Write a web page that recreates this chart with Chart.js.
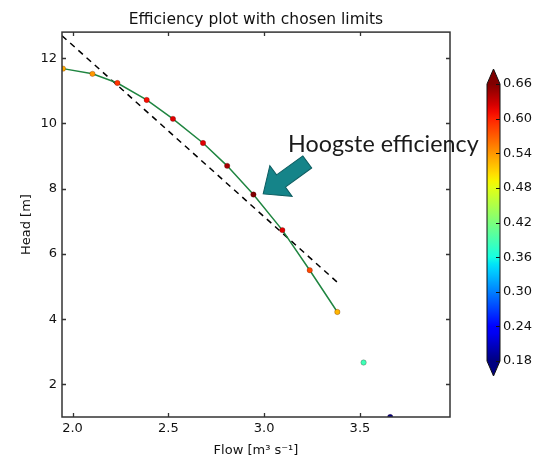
<!DOCTYPE html>
<html>
<head>
<meta charset="utf-8">
<script src="https://cdn.jsdelivr.net/npm/chart.js@4.4.1/dist/chart.umd.min.js"></script>
<style>
  html, body { margin: 0; padding: 0; background: #fff; }
  #wrap { position: relative; width: 537px; height: 458px; }
  #wrap canvas { position: absolute; top: 0; }
</style>
</head>
<body>
<div id="wrap">
  <canvas id="hoofd" width="537" height="458" style="left:0"></canvas>
  <canvas id="kleurbalk" width="67" height="458" style="left:470px"></canvas>
</div>
<script>
// 1. DATA
const flow = [1.95, 2.104, 2.234, 2.387, 2.524, 2.681, 2.807, 2.944, 3.095, 3.238, 3.382, 3.519, 3.658];
const head = [11.68, 11.52, 11.24, 10.72, 10.14, 9.40, 8.70, 7.82, 6.73, 5.50, 4.22, 2.67, 1.0];
const efficiency = [0.53, 0.54, 0.59, 0.61, 0.62, 0.62, 0.645, 0.66, 0.62, 0.58, 0.525, 0.385, 0.18];
const curvePoints = 11;            // groene lijn loopt door de eerste 11 punten
const fitFlow = [1.945, 3.38];     // gestippelde rechte (lineaire fit)
const fitHead = [12.69, 5.14];
const xTicks = [2.0, 2.5, 3.0, 3.5];
const yTicks = [2, 4, 6, 8, 10, 12];
const cbTicks = [0.18, 0.24, 0.30, 0.36, 0.42, 0.48, 0.54, 0.60, 0.66];
const label = 'Hoogste efficiency';
const labelPos = { x: 3.125, y: 9.12 };
const arrowTip = { x: 2.995, y: 7.84 };
const arrowTail = { x: 3.225, y: 8.82 };

const FONT = 'DejaVu Sans';
const effMin = cbTicks[0], effMax = cbTicks[cbTicks.length - 1];

// 2. JET KLEURENKAART
const jetR = [[0, 0], [0.35, 0], [0.66, 1], [0.89, 1], [1, 0.5]];
const jetG = [[0, 0], [0.125, 0], [0.375, 1], [0.64, 1], [0.91, 0], [1, 0]];
const jetB = [[0, 0.5], [0.11, 1], [0.34, 1], [0.65, 0], [1, 0]];
function interp(pts, t) {
    for (let i = 1; i < pts.length; i++) {
        if (t <= pts[i][0]) {
            const [x0, y0] = pts[i - 1], [x1, y1] = pts[i];
            return y0 + (y1 - y0) * (t - x0) / (x1 - x0);
        }
    }
    return pts[pts.length - 1][1];
}
function jet(t) {
    t = Math.min(1, Math.max(0, t));
    const c = v => Math.round(255 * v);
    return `rgb(${c(interp(jetR, t))},${c(interp(jetG, t))},${c(interp(jetB, t))})`;
}
const effColor = v => jet((v - effMin) / (effMax - effMin));

// 3. PLUGINS
const kaderPlugin = {
    id: 'kader',
    afterDatasetsDraw(chart) {
        const { ctx, chartArea: a, scales } = chart;
        ctx.save();
        ctx.strokeStyle = '#333';
        ctx.lineWidth = 1.3;
        ctx.beginPath();
        xTicks.forEach(v => {
            const px = Math.round(scales.x.getPixelForValue(v)) + 0.5;
            ctx.moveTo(px, a.bottom); ctx.lineTo(px, a.bottom - 4);
            ctx.moveTo(px, a.top); ctx.lineTo(px, a.top + 4);
        });
        yTicks.forEach(v => {
            const py = Math.round(scales.y.getPixelForValue(v)) + 0.5;
            ctx.moveTo(a.left, py); ctx.lineTo(a.left + 4, py);
            ctx.moveTo(a.right, py); ctx.lineTo(a.right - 4, py);
        });
        ctx.stroke();
        ctx.lineWidth = 1.5;
        ctx.strokeRect(a.left, a.top, a.right - a.left, a.bottom - a.top);
        ctx.restore();
    }
};

const annotatiePlugin = {
    id: 'annotatie',
    afterDraw(chart) {
        const { ctx, scales } = chart;
        const tx = scales.x.getPixelForValue(arrowTip.x), ty = scales.y.getPixelForValue(arrowTip.y);
        const sx = scales.x.getPixelForValue(arrowTail.x), sy = scales.y.getPixelForValue(arrowTail.y);
        const len = Math.hypot(tx - sx, ty - sy);
        const ang = Math.atan2(ty - sy, tx - sx);
        const headLen = 22, headW = 38, shaftW = 15;
        ctx.save();
        ctx.translate(sx, sy);
        ctx.rotate(ang);
        ctx.beginPath();
        ctx.moveTo(0, -shaftW / 2);
        ctx.lineTo(len - headLen, -shaftW / 2);
        ctx.lineTo(len - headLen, -headW / 2);
        ctx.lineTo(len, 0);
        ctx.lineTo(len - headLen, headW / 2);
        ctx.lineTo(len - headLen, shaftW / 2);
        ctx.lineTo(0, shaftW / 2);
        ctx.closePath();
        ctx.fillStyle = '#158489';
        ctx.fill();
        ctx.strokeStyle = '#0d5d61';
        ctx.lineWidth = 1;
        ctx.stroke();
        ctx.restore();

        ctx.save();
        ctx.font = '23.3px Lato';
        ctx.fillStyle = '#1a1a1a';
        ctx.textAlign = 'left';
        ctx.textBaseline = 'alphabetic';
        ctx.fillText(label, scales.x.getPixelForValue(labelPos.x), scales.y.getPixelForValue(labelPos.y));
        ctx.restore();
    }
};

const kleurbalkPlugin = {
    id: 'kleurbalkTekening',
    afterDraw(chart) {
        const { ctx, chartArea: a, scales } = chart;
        const mid = (a.left + a.right) / 2, ext = 15;
        ctx.save();
        const grad = ctx.createLinearGradient(0, a.bottom, 0, a.top);
        for (let i = 0; i <= 40; i++) grad.addColorStop(i / 40, jet(i / 40));
        ctx.fillStyle = grad;
        ctx.fillRect(a.left, a.top, a.right - a.left, a.bottom - a.top);
        ctx.fillStyle = jet(1);
        ctx.beginPath();
        ctx.moveTo(a.left, a.top); ctx.lineTo(mid, a.top - ext); ctx.lineTo(a.right, a.top); ctx.closePath();
        ctx.fill();
        ctx.fillStyle = jet(0);
        ctx.beginPath();
        ctx.moveTo(a.left, a.bottom); ctx.lineTo(mid, a.bottom + ext); ctx.lineTo(a.right, a.bottom); ctx.closePath();
        ctx.fill();
        ctx.strokeStyle = '#111';
        ctx.lineWidth = 1;
        ctx.beginPath();
        ctx.moveTo(a.left, a.top); ctx.lineTo(mid, a.top - ext); ctx.lineTo(a.right, a.top);
        ctx.lineTo(a.right, a.bottom); ctx.lineTo(mid, a.bottom + ext); ctx.lineTo(a.left, a.bottom);
        ctx.closePath();
        ctx.stroke();
        ctx.beginPath();
        cbTicks.forEach(v => {
            const py = Math.round(scales.y.getPixelForValue(v)) + 0.5;
            ctx.moveTo(a.right, py); ctx.lineTo(a.right - 4, py);
        });
        ctx.stroke();
        ctx.restore();
    }
};

// 4. GRAFIEKEN
const tickFont = { family: FONT, size: 13 };

new Chart(document.getElementById('hoofd'), {
    type: 'scatter',
    data: {
        datasets: [
            {
                data: flow.map((x, i) => ({ x, y: head[i] })),
                pointRadius: 2.7,
                pointBackgroundColor: efficiency.map(effColor),
                pointBorderColor: 'rgba(60,0,0,0.5)',
                pointBorderWidth: 0.5,
                clip: 0,
                order: 0
            },
            {
                data: flow.slice(0, curvePoints).map((x, i) => ({ x, y: head[i] })),
                showLine: true,
                borderColor: '#1f8540',
                borderWidth: 1.5,
                pointRadius: 0,
                clip: 0,
                order: 1
            },
            {
                data: fitFlow.map((x, i) => ({ x, y: fitHead[i] })),
                showLine: true,
                borderColor: '#000',
                borderWidth: 1.5,
                borderDash: [6, 5],
                pointRadius: 0,
                clip: 0,
                order: 2
            }
        ]
    },
    options: {
        responsive: false,
        animation: false,
        events: [],
        layout: { padding: { top: 0, left: 0, right: 87, bottom: 0 } },
        plugins: {
            legend: { display: false },
            tooltip: { enabled: false },
            title: {
                display: true,
                text: 'Efficiency plot with chosen limits',
                fullSize: false,
                color: '#111',
                font: { family: FONT, size: 15.5, weight: 'normal' },
                padding: { top: 10.5, bottom: 3 }
            }
        },
        scales: {
            x: {
                type: 'linear',
                min: 1.945,
                max: 3.97,
                afterBuildTicks: s => { s.ticks = xTicks.map(v => ({ value: v })); },
                afterFit: s => { s.height = 41; },
                grid: { display: false, drawTicks: false },
                border: { display: false },
                ticks: { font: tickFont, color: '#111', padding: 4, callback: v => v.toFixed(1) },
                title: { display: true, text: 'Flow [m³ s⁻¹]', font: tickFont, color: '#111', padding: { top: 0, bottom: 0 } }
            },
            y: {
                type: 'linear',
                min: 1.0,
                max: 12.8,
                afterBuildTicks: s => { s.ticks = yTicks.map(v => ({ value: v })); },
                afterFit: s => { s.width = 62; },
                grid: { display: false, drawTicks: false },
                border: { display: false },
                ticks: { font: tickFont, color: '#111', padding: 5, callback: v => String(v) },
                title: { display: true, text: 'Head [m]', font: tickFont, color: '#111', padding: { top: 19, bottom: 0 } }
            }
        }
    },
    plugins: [kaderPlugin, annotatiePlugin]
});

new Chart(document.getElementById('kleurbalk'), {
    type: 'scatter',
    data: { datasets: [] },
    options: {
        responsive: false,
        animation: false,
        events: [],
        layout: { padding: { left: 17, top: 84, bottom: 97, right: 0 } },
        plugins: { legend: { display: false }, tooltip: { enabled: false } },
        scales: {
            x: { display: false },
            y: {
                position: 'right',
                min: effMin,
                max: effMax,
                afterBuildTicks: s => { s.ticks = cbTicks.map(v => ({ value: v })); },
                afterFit: s => { s.width = 37; },
                grid: { display: false, drawTicks: false },
                border: { display: false },
                ticks: { font: tickFont, color: '#111', padding: 3, callback: v => v.toFixed(2) }
            }
        }
    },
    plugins: [kleurbalkPlugin]
});
</script>
</body>
</html>
